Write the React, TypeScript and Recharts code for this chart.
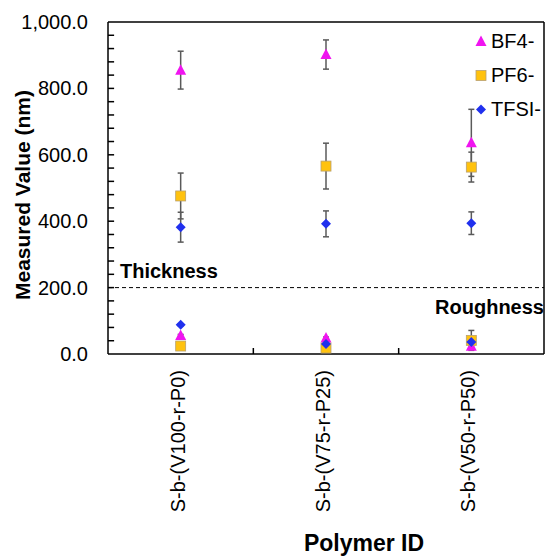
import React from 'react';
import { ComposedChart, Scatter, XAxis, YAxis, ErrorBar, ReferenceLine, Legend } from 'recharts';

const categories = ['S-b-(V100-r-P0)', 'S-b-(V75-r-P25)', 'S-b-(V50-r-P50)'];

const bf4Thickness = [855, 902, 636];
const bf4ThicknessErr = [57, 44, 101];
const bf4Roughness = [56, 48, 23];
const bf4RoughnessErr = [3, 3, 3];

const pf6Thickness = [476, 566, 563];
const pf6ThicknessErr = [69, 69, 45];
const pf6Roughness = [24, 18, 41];
const pf6RoughnessErr = [3, 3, 30];

const tfsiThickness = [382, 392, 394];
const tfsiThicknessErr = [45, 39, 34];
const tfsiRoughness = [88, 30, 36];
const tfsiRoughnessErr = [3, 3, 3];

const yLabelTicks = [0, 200, 400, 600, 800, 1000];
const yMinorTicks = [40, 80, 120, 160, 200, 240, 280, 320, 360, 400, 440, 480, 520, 560, 600, 640, 680, 720, 760, 800, 840, 880, 920, 960];
const xLabelTicks = [0.5, 1.5, 2.5];
const xMarkTicks = [1, 2];

const FONT = '"Liberation Sans", Arial, Helvetica, sans-serif';
const MAGENTA = '#f014f0';
const GOLD = '#ffc20e';
const BLUE = '#2030ee';
const ERR = '#5a5a5a';

const build = (thick: number[], thickErr: number[], rough: number[], roughErr: number[]) => [
  ...categories.map((c, i) => ({ x: i + 0.5, y: thick[i], err: thickErr[i], name: c })),
  ...categories.map((c, i) => ({ x: i + 0.5, y: rough[i], err: roughErr[i], name: c })),
];

const bf4Data = build(bf4Thickness, bf4ThicknessErr, bf4Roughness, bf4RoughnessErr);
const pf6Data = build(pf6Thickness, pf6ThicknessErr, pf6Roughness, pf6RoughnessErr);
const tfsiData = build(tfsiThickness, tfsiThicknessErr, tfsiRoughness, tfsiRoughnessErr);

const Triangle = (props: any) => {
  const { cx, cy } = props;
  return <polygon points={`${cx},${cy - 6} ${cx - 5.5},${cy + 4.5} ${cx + 5.5},${cy + 4.5}`} fill={MAGENTA} />;
};
const Square = (props: any) => {
  const { cx, cy } = props;
  return <rect x={cx - 5} y={cy - 5} width={10} height={10} fill={GOLD} stroke="#b8a070" strokeWidth={0.8} />;
};
const Diamond = (props: any) => {
  const { cx, cy } = props;
  return <polygon points={`${cx},${cy - 5} ${cx + 5},${cy} ${cx},${cy + 5} ${cx - 5},${cy}`} fill={BLUE} />;
};

const seriesDefs = [
  { name: 'BF4-', shape: Triangle },
  { name: 'PF6-', shape: Square },
  { name: 'TFSI-', shape: Diamond },
];

const XTick = (props: any) => {
  const { x, y, payload } = props;
  const label = categories[Math.floor(payload.value)];
  const ax = Number(x) + 4;
  const ay = Number(y) + 16;
  return (
    <text x={ax} y={ay} transform={`rotate(-90, ${ax}, ${ay})`} textAnchor="end" fontFamily={FONT} fontSize={20} fill="#000">
      {label}
    </text>
  );
};

const YTick = (props: any) => {
  const { x, y, payload } = props;
  return (
    <text x={Number(x) - 20} y={Number(y) + 7} textAnchor="end" fontFamily={FONT} fontSize={20} fill="#000">
      {payload.value.toLocaleString('en-US', { minimumFractionDigits: 1, maximumFractionDigits: 1 })}
    </text>
  );
};

const LegendContent = () => (
  <div style={{ fontFamily: FONT, fontSize: 20, color: '#000' }}>
    {seriesDefs.map((s) => {
      const Shape = s.shape;
      return (
        <div key={s.name} style={{ display: 'flex', alignItems: 'center', height: 34 }}>
          <svg width={14} height={14} style={{ marginRight: 3 }}>
            <Shape cx={7} cy={7.5} />
          </svg>
          <span>{s.name}</span>
        </div>
      );
    })}
  </div>
);

const dividerLabel = (props: any) => {
  const { viewBox } = props;
  const { x, y, width } = viewBox;
  return (
    <g>
      <text x={x + 12} y={y - 10} fontFamily={FONT} fontSize={20} fontWeight="bold" fill="#000">Thickness</text>
      <text x={x + width} y={y + 26} textAnchor="end" fontFamily={FONT} fontSize={20} fontWeight="bold" fill="#000">Roughness</text>
    </g>
  );
};

// tick mark lengths in data units (about 6px on screen)
const Y_TICK_LEN_X = 0.042;
const X_TICK_LEN_Y = 18;

export default function App() {
  return (
    <div style={{ position: 'absolute', left: 0, top: 0, background: '#fff' }}>
      <ComposedChart width={545} height={556} margin={{ top: 22, right: 1, left: 0, bottom: 0 }}>
        <XAxis
          type="number"
          dataKey="x"
          domain={[0, 3]}
          ticks={xLabelTicks}
          interval={0}
          tickLine={false}
          tickSize={0}
          tickMargin={0}
          tick={XTick}
          height={202}
          axisLine={{ stroke: '#000', strokeWidth: 1.5 }}
          label={{
            content: () => (
              <text x={364} y={551} textAnchor="middle" fontFamily={FONT} fontSize={23} fontWeight="bold" fill="#000">
                Polymer ID
              </text>
            ),
          }}
        />
        <YAxis
          type="number"
          dataKey="y"
          domain={[0, 1000]}
          ticks={yLabelTicks}
          interval={0}
          tickLine={false}
          tickSize={0}
          tickMargin={0}
          tick={YTick}
          width={108}
          axisLine={{ stroke: '#000', strokeWidth: 1.5 }}
          label={{
            content: () => (
              <text x={30} y={195} transform="rotate(-90, 30, 195)" textAnchor="middle" fontFamily={FONT} fontSize={21} fontWeight="bold" fill="#000">
                Measured Value (nm)
              </text>
            ),
          }}
        />
        {yMinorTicks.map((v) => (
          <ReferenceLine
            key={`yt${v}`}
            segment={[{ x: 0, y: v }, { x: Y_TICK_LEN_X, y: v }]}
            stroke="#000"
            strokeWidth={1.5}
            ifOverflow="visible"
          />
        ))}
        {xMarkTicks.map((v) => (
          <ReferenceLine
            key={`xt${v}`}
            segment={[{ x: v, y: 0 }, { x: v, y: X_TICK_LEN_Y }]}
            stroke="#000"
            strokeWidth={1.5}
            ifOverflow="visible"
          />
        ))}
        <ReferenceLine y={1000} stroke="#000" strokeWidth={1.5} />
        <ReferenceLine x={3} stroke="#000" strokeWidth={1.5} />
        <ReferenceLine y={200} stroke="#000" strokeWidth={1} strokeDasharray="4 3" label={dividerLabel} />
        <Scatter name="BF4-" data={bf4Data} shape={Triangle} isAnimationActive={false}>
          <ErrorBar dataKey="err" direction="y" width={3} stroke={ERR} strokeWidth={1.5} />
        </Scatter>
        <Scatter name="PF6-" data={pf6Data} shape={Square} isAnimationActive={false}>
          <ErrorBar dataKey="err" direction="y" width={3} stroke={ERR} strokeWidth={1.5} />
        </Scatter>
        <Scatter name="TFSI-" data={tfsiData} shape={Diamond} isAnimationActive={false}>
          <ErrorBar dataKey="err" direction="y" width={3} stroke={ERR} strokeWidth={1.5} />
        </Scatter>
        <Legend
          layout="vertical"
          align="center"
          verticalAlign="middle"
          content={LegendContent}
          wrapperStyle={{ left: 474, top: 24, width: 'auto' }}
        />
      </ComposedChart>
    </div>
  );
}
